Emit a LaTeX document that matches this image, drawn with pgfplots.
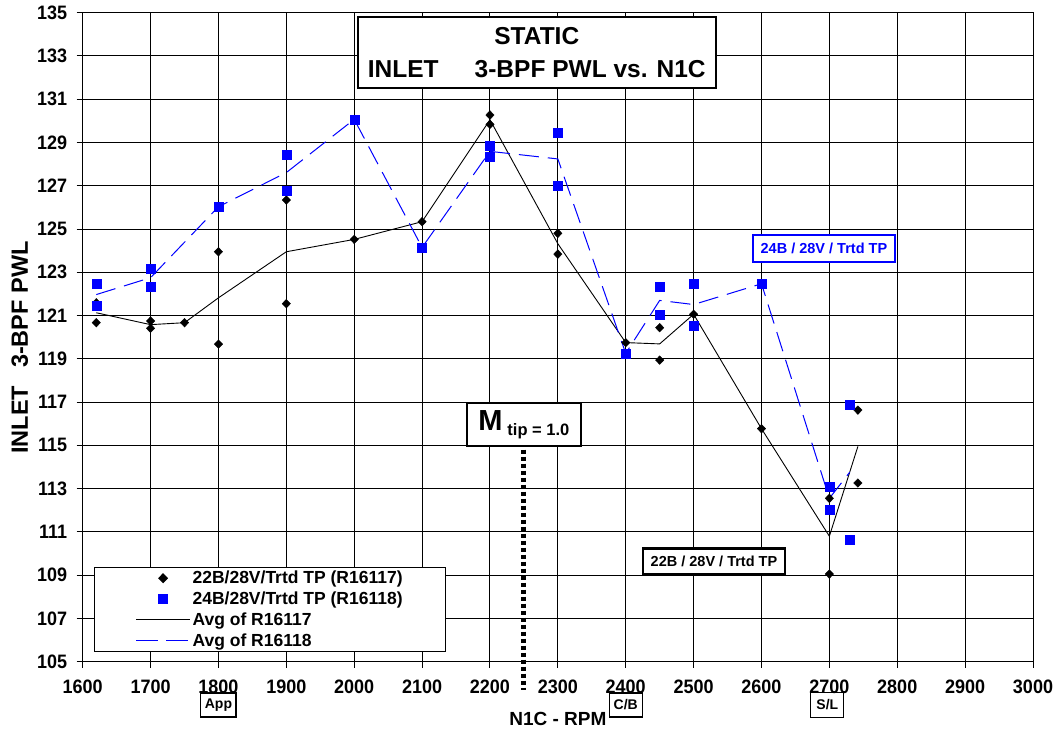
\documentclass[border=0pt]{standalone}
\usepackage{pgfplots}
\pgfplotsset{compat=1.18}
\usepackage{fontspec}
\setmainfont{Liberation Sans}
\definecolor{pblue}{RGB}{0,0,255}
\pgfplotsset{
  markleg/.style={legend image code/.code={\draw[mark repeat=2,mark phase=2,##1] plot coordinates {(0pt,0pt)(27pt,0pt)(54pt,0pt)};}},
  lineleg/.style={legend image code/.code={\draw[##1] (0pt,0pt) -- (54pt,0pt);}},
}

\pgfplotstableread{
x y
1620 120.67
1620 121.59
1700 120.75
1700 120.41
1750 120.67
1800 123.95
1800 119.68
1900 126.34
1900 121.55
2000 124.52
2100 125.34
2200 130.27
2200 129.84
2300 124.80
2300 123.84
2400 119.75
2450 120.44
2450 118.94
2500 121.06
2600 115.77
2700 112.55
2700 109.05
2742 116.63
2742 113.26
}\ptsA

\pgfplotstableread{
x y
1620 121.13
1700 120.58
1750 120.67
1800 121.82
1900 123.95
2000 124.52
2100 125.34
2200 130.05
2300 124.32
2400 119.75
2450 119.69
2500 121.06
2600 115.77
2700 110.80
2742 114.95
}\avgA

\pgfplotstableread{
x y
1620 122.49
1620 121.44
1700 123.17
1700 122.33
1800 126.03
1900 128.45
1900 126.77
2000 130.07
2100 124.15
2200 128.84
2200 128.34
2300 129.46
2300 127.02
2400 119.25
2450 122.35
2450 121.04
2500 122.47
2500 120.55
2600 122.47
2700 113.09
2700 112.02
2730 116.86
2730 110.65
}\ptsB

\pgfplotstableread{
x y
1620 121.97
1700 122.75
1800 126.03
1900 127.61
2000 130.07
2100 124.15
2200 128.59
2300 128.24
2400 119.25
2450 121.70
2500 121.51
2600 122.47
2700 112.55
2730 113.76
}\avgB

\begin{document}
\begin{tikzpicture}
\path[use as bounding box] (-82.7pt,-71.3pt) rectangle (972.3pt,661.7pt);
\begin{axis}[
  scale only axis, width=950.3pt, height=649pt,
  xmin=1600, xmax=3000, ymin=105, ymax=135,
  xtick={1600,1700,...,3000}, ytick={105,107,...,135},
  grid=major, major grid style={black, line width=1pt},
  axis line style={black, line width=1pt},
  tick style={black, line width=1pt},
  major tick length=6pt, tick align=outside,
  xtick pos=bottom, ytick pos=left,
  /pgf/number format/assume math mode=true,
  /pgf/number format/1000 sep={},
  ticklabel style={font=\bfseries\fontsize{18}{18}\selectfont, yscale=1.08},
  xticklabel style={yshift=-8pt},
  yticklabel style={xshift=-6pt},
  xlabel={N1C - RPM},
  xlabel style={at={(axis description cs:0.5,0)}, anchor=center, yshift=-57pt, font=\bfseries\fontsize{19}{19}\selectfont},
  ylabel={INLET\hspace{18pt}3-BPF PWL},
  ylabel style={at={(axis description cs:0,0.484)}, anchor=center, yshift=63pt, font=\bfseries\fontsize{23.5}{23.5}\selectfont},
  clip=false,
  legend style={at={(axis description cs:0.0119,0.0154)}, anchor=south west, draw=black, line width=1.1pt, fill=white,
    inner xsep=41pt, inner ysep=1.5pt, font=\bfseries\fontsize{17.5}{20}\selectfont, row sep=2.6pt},
  legend cell align=left,
]
\addplot[black, line width=0.9pt, forget plot] table {\avgA};
\addplot[pblue, line width=1pt, dash pattern=on 20pt off 9pt, forget plot] table {\avgB};
\addplot[only marks, mark=diamond*, mark size=4.3pt, mark options={black, fill=black, xscale=1.3}, markleg] table {\ptsA};
\addlegendentry{22B/28V/Trtd TP (R16117)}
\addplot[only marks, mark=square*, mark size=4.5pt, mark options={pblue, fill=pblue}, markleg] table {\ptsB};
\addlegendentry{24B/28V/Trtd TP (R16118)}
\addlegendimage{draw=black, line width=1pt, lineleg}
\addlegendentry{Avg of R16117}
\addlegendimage{draw=pblue, line width=1pt, dash pattern=on 22pt off 8pt, lineleg}
\addlegendentry{Avg of R16118}

\node[draw=black, line width=2.5pt, fill=white, align=center, minimum width=358pt, minimum height=71pt, inner sep=0pt,
  font=\bfseries\fontsize{24.5}{33}\selectfont] at (axis cs:2269,133.16) {STATIC\\INLET\hspace{36pt}3-BPF PWL vs. N1C};

\draw[black, line width=5pt, dash pattern=on 4pt off 3pt] (axis cs:2250,114.8) -- (axis cs:2250,103.69);
\node[draw=black, line width=2.5pt, fill=white, minimum width=114pt, minimum height=43pt, inner sep=0pt]
  at (axis cs:2250,115.96) {\fontsize{29}{29}\selectfont\bfseries M\,\raisebox{-5pt}{\fontsize{16.5}{16.5}\selectfont\bfseries tip = 1.0}};

\node[draw=pblue, line width=2.5pt, fill=white, text=pblue, minimum width=142pt, minimum height=27pt, inner sep=0pt,
  font=\bfseries\fontsize{14.5}{14.5}\selectfont] at (axis cs:2692,124.1) {24B / 28V / Trtd TP};
\node[draw=black, line width=2.5pt, fill=white, minimum width=142pt, minimum height=26pt, inner sep=0pt,
  font=\bfseries\fontsize{14.5}{14.5}\selectfont] at (axis cs:2530,109.63) {22B / 28V / Trtd TP};

\node[draw=black, line width=1.2pt, minimum width=33pt, minimum height=24pt, inner xsep=4pt, inner ysep=0pt,
  font=\bfseries\fontsize{14}{14}\selectfont] at (axis cs:1800,103.0) {App};
\node[draw=black, line width=1.2pt, minimum width=33pt, minimum height=24pt, inner xsep=4pt, inner ysep=0pt,
  font=\bfseries\fontsize{14}{14}\selectfont] at (axis cs:2400,103.0) {C/B};
\node[draw=black, line width=1.2pt, minimum width=33pt, minimum height=25pt, inner xsep=4pt, inner ysep=0pt,
  font=\bfseries\fontsize{14}{14}\selectfont] at (axis cs:2697,103.0) {S/L};
\end{axis}
\end{tikzpicture}
\end{document}
